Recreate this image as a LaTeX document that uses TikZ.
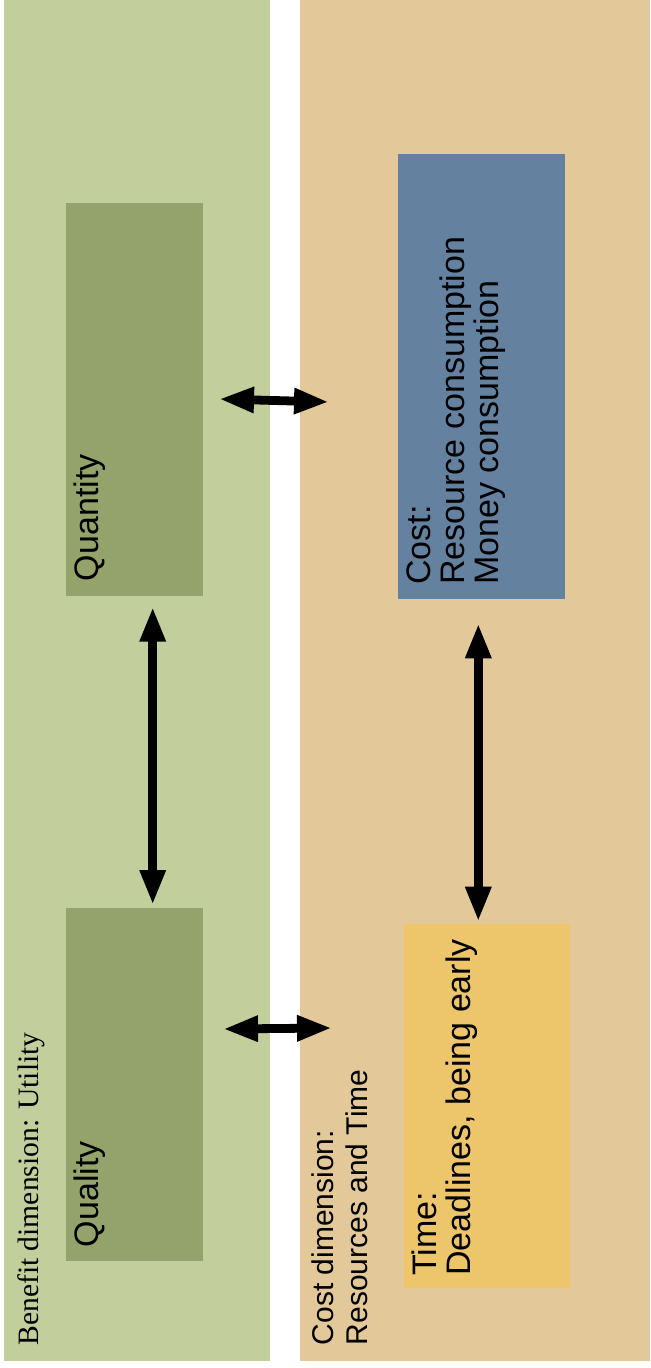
\documentclass[tikz,border=0pt]{standalone}
\usepackage{fontspec}
\setmainfont{Liberation Serif}
\newfontfamily\arialf{Liberation Sans}
\usetikzlibrary{arrows.meta}
\definecolor{greenpanel}{RGB}{194,207,156}
\definecolor{greenbox}{RGB}{147,163,107}
\definecolor{tanpanel}{RGB}{227,201,153}
\definecolor{bluebox}{RGB}{100,130,160}
\definecolor{yellowbox}{RGB}{237,197,107}
\tikzset{
  panel/.style={inner sep=0pt, outer sep=0pt, anchor=north west, draw=none},
  boxnode/.style={inner sep=0pt, outer sep=0pt, anchor=north west, draw=none},
  boxtext/.style={rotate=90, anchor=north west, inner sep=0pt, align=left,
    font=\arialf\fontsize{17pt}{17pt}\selectfont},
  labeltext/.style={rotate=90, anchor=north west, inner sep=0pt, align=left},
  dblarrow/.style={line width=4.4pt, {Triangle[length=17.5pt,width=12pt]}-{Triangle[length=17.5pt,width=12pt]}}
}
\begin{document}
\begin{tikzpicture}[x=0.5pt,y=-0.5pt]
\useasboundingbox (0,0) rectangle (650,1368);
% panels
\node[panel, fill=greenpanel, minimum width=133pt, minimum height=680.5pt] (benefit) at (4,0) {};
\node[panel, fill=tanpanel, minimum width=175pt, minimum height=680.5pt] (cost) at (300,0) {};
% boxes
\node[boxnode, fill=greenbox, minimum width=68.5pt, minimum height=196.5pt] (quantity) at (65.7,203) {};
\node[boxnode, fill=greenbox, minimum width=68.5pt, minimum height=176.5pt] (quality) at (65.7,908) {};
\node[boxnode, fill=bluebox, minimum width=83.5pt, minimum height=222.5pt] (costbox) at (398,153.7) {};
\node[boxnode, fill=yellowbox, minimum width=83pt, minimum height=181.7pt] (timebox) at (403.5,924.3) {};
% texts
\node[boxtext] (tquantity) at (73,581.5) {Quantity};
\node[boxtext] (tquality) at (73.3,1247.5) {Quality};
\node[boxtext] (tcost) at (406.7,585) {Cost:\\Resource consumption\\Money consumption};
\node[boxtext] (ttime) at (411.7,1276) {Time:\\Deadlines, being early};
\node[labeltext, anchor=base west, font=\fontsize{14.8pt}{17pt}\selectfont] (tbenefit) at (38.5,1346) {Benefit dimension: Utility};
\node[labeltext, font=\arialf\fontsize{15pt}{17.2pt}\selectfont] (tcostdim) at (311.2,1345.5) {Cost dimension:\\Resources and Time};
% arrow end points
\coordinate (a1) at (219,399);
\coordinate (a2) at (329,402);
\coordinate (b1) at (223,1029);
\coordinate (b2) at (332,1028);
\coordinate (c1) at (152.7,606.7);
\coordinate (c2) at (152.7,905);
\coordinate (d1) at (478.3,623.3);
\coordinate (d2) at (478.3,921.7);
\draw[dblarrow] (a1) -- (a2);
\draw[dblarrow] (b1) -- (b2);
\draw[dblarrow] (c1) -- (c2);
\draw[dblarrow] (d1) -- (d2);
\end{tikzpicture}
\end{document}
